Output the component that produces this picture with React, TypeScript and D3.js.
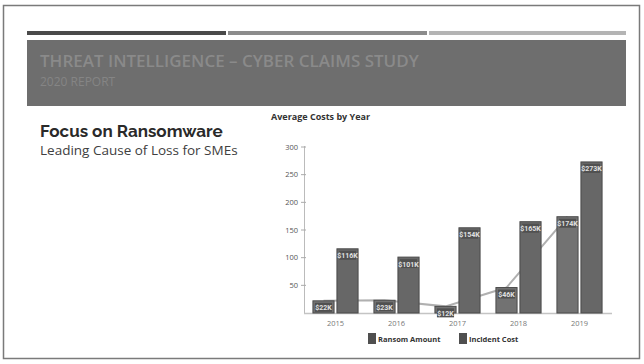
import React from "react";
import * as d3 from "d3";

const years = ["2015", "2016", "2017", "2018", "2019"];
const ransomAmount = [22, 23, 12, 46, 174];
const incidentCost = [116, 101, 154, 165, 273];
const ransomLabels = ["$22K", "$23K", "$12K", "$46K", "$174K"];
const incidentLabels = ["$116K", "$101K", "$154K", "$165K", "$273K"];
const yTicks = [50, 100, 150, 200, 250, 300];
const seriesNames = ["Ransom Amount", "Incident Cost"];

const W = 644;
const H = 364;

export default function App() {
  const x = d3.scaleBand<string>().domain(years).range([305, 610]).paddingInner(0.26).paddingOuter(0.13);
  const inner = d3.scaleBand<string>().domain(["r", "i"]).range([0, x.bandwidth()]).paddingInner(0.12);
  const y = d3.scaleLinear().domain([0, 300]).range([313, 147]);

  const line = d3
    .line<number>()
    .x((_, i) => (x(years[i]) as number) + (inner("r") as number) + inner.bandwidth() / 2)
    .y((d) => y(d));

  const bars: React.ReactNode[] = [];
  years.forEach((yr, i) => {
    const series = [
      { key: "r", v: ransomAmount[i], lab: ransomLabels[i], fill: "#727272" },
      { key: "i", v: incidentCost[i], lab: incidentLabels[i], fill: "#676767" },
    ];
    series.forEach((s) => {
      const bx = (x(yr) as number) + (inner(s.key) as number);
      const bw = inner.bandwidth();
      const top = y(s.v);
      bars.push(
        <g key={yr + s.key}>
          <rect x={bx} y={top} width={bw} height={313 - top} fill={s.fill} stroke="#4a4a4a" strokeWidth={1} />
          <rect x={bx + 2} y={top + 2} width={bw - 4} height={9} fill="#505050" />
          <text x={bx + bw / 2} y={top + 9.5} textAnchor="middle" fontSize={7} fontWeight="bold" fill="#e0e0e0" fontFamily="Roboto, sans-serif">
            {s.lab}
          </text>
        </g>
      );
    });
  });

  return (
    <svg width={W} height={H} style={{ position: "absolute", left: 0, top: 0, background: "#fff" }}>
      <rect x={3.5} y={5.5} width={636} height={353} fill="#fff" stroke="#7a7a7a" strokeWidth={1.5} />
      {/* header strips */}
      <rect x={27} y={31} width={199} height={4} fill="#4a4a4a" />
      <rect x={228} y={31} width={199} height={4} fill="#8c8c8c" />
      <rect x={429} y={31} width={197} height={4} fill="#b4b4b4" />
      <rect x={27} y={40} width={599} height={66} fill="#6e6e6e" />
      <text x={40} y={67} fontSize={17} fill="#8a8a8a" fontFamily="'Open Sans', sans-serif" fontWeight="600">
        THREAT INTELLIGENCE – CYBER CLAIMS STUDY
      </text>
      <text x={40} y={86} fontSize={12} fill="#858585" fontFamily="'Open Sans', sans-serif">
        2020 REPORT
      </text>

      <text x={40} y={137} fontSize={17} fontWeight="bold" fill="#2a2a2a" fontFamily="Raleway, 'Open Sans', sans-serif">
        Focus on Ransomware
      </text>
      <text x={40} y={155} fontSize={13.5} fontWeight="500" fill="#404040" fontFamily="'Open Sans', sans-serif">
        Leading Cause of Loss for SMEs
      </text>

      <text x={271} y={120} fontSize={9} fontWeight="bold" fill="#333" fontFamily="'Open Sans', sans-serif">
        Average Costs by Year
      </text>

      {/* axes */}
      <line x1={304.5} x2={304.5} y1={146} y2={313} stroke="#bbb" strokeWidth={1} />
      <line x1={304} x2={612} y1={313.5} y2={313.5} stroke="#c4c4c4" strokeWidth={1.5} />
      {yTicks.map((t) => (
        <g key={t}>
          <line x1={301} x2={306} y1={y(t)} y2={y(t)} stroke="#aaa" />
          <text x={298} y={y(t) + 2.5} textAnchor="end" fontSize={7.5} fill="#555" fontFamily="'Open Sans', sans-serif">
            {t}
          </text>
        </g>
      ))}
      {years.map((yr) => (
        <text key={yr} x={(x(yr) as number) + x.bandwidth() / 2} y={326} textAnchor="middle" fontSize={7.5} fill="#777" fontFamily="'Open Sans', sans-serif">
          {yr}
        </text>
      ))}

      <path d={line(ransomAmount) || ""} fill="none" stroke="#b0b0b0" strokeWidth={2} />
      {bars}

      {/* legend */}
      <rect x={368} y={333} width={8} height={11} fill="#4f4f4f" />
      <text x={378} y={342} fontSize={7.5} fontWeight="bold" fill="#333" fontFamily="'Open Sans', sans-serif">
        {seriesNames[0]}
      </text>
      <rect x={459} y={333} width={8} height={11} fill="#4f4f4f" />
      <text x={469} y={342} fontSize={7.5} fontWeight="bold" fill="#333" fontFamily="'Open Sans', sans-serif">
        {seriesNames[1]}
      </text>
    </svg>
  );
}
